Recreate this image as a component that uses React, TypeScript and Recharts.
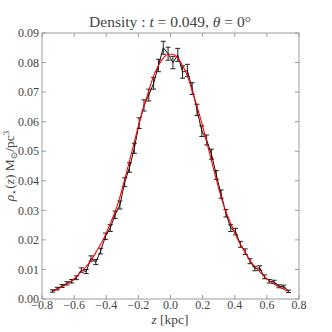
import { ComposedChart, ErrorBar, Line, XAxis, YAxis } from 'recharts';

const zValues = [
  -0.735, -0.705, -0.675, -0.645, -0.615, -0.585, -0.555, -0.525, -0.495, -0.465,
  -0.435, -0.405, -0.375, -0.345, -0.315, -0.285, -0.255, -0.225, -0.195, -0.165,
  -0.135, -0.105, -0.075, -0.045, -0.015, 0.015, 0.045, 0.075, 0.105, 0.135,
  0.165, 0.195, 0.225, 0.255, 0.285, 0.315, 0.345, 0.375, 0.405, 0.435,
  0.465, 0.495, 0.525, 0.555, 0.585, 0.615, 0.645, 0.675, 0.705, 0.735,
];

const densityValues = [
  0.0027, 0.0035, 0.0044, 0.0053, 0.006, 0.0072, 0.0098, 0.0093, 0.0137, 0.0125,
  0.0162, 0.0212, 0.024, 0.0285, 0.0318, 0.0395, 0.0445, 0.051, 0.0595, 0.0655,
  0.069, 0.073, 0.079, 0.085, 0.083, 0.08, 0.0826, 0.0768, 0.0773, 0.0712,
  0.064, 0.0568, 0.0538, 0.049, 0.042, 0.0355, 0.029, 0.024, 0.0228, 0.0185,
  0.016, 0.0128, 0.0103, 0.0105, 0.0075, 0.006, 0.0058, 0.0043, 0.0042, 0.0026,
];

const densityErrors = [
  0.0004, 0.00045, 0.0005, 0.00055, 0.0006, 0.00065, 0.00075, 0.0007, 0.0009, 0.00085,
  0.00095, 0.0011, 0.00115, 0.00125, 0.00135, 0.0015, 0.0016, 0.0017, 0.0018, 0.0019,
  0.002, 0.002, 0.0021, 0.0022, 0.0022, 0.0021, 0.0022, 0.0021, 0.0021, 0.002,
  0.0019, 0.0018, 0.0017, 0.0017, 0.0015, 0.0014, 0.00125, 0.00115, 0.0011, 0.001,
  0.00095, 0.00085, 0.00075, 0.00075, 0.00065, 0.0006, 0.00055, 0.0005, 0.0005, 0.0004,
];

const fitValues = [
  0.0026, 0.0033, 0.0041, 0.0051, 0.0062, 0.0076, 0.0093, 0.011, 0.013, 0.0157,
  0.0185, 0.0217, 0.0255, 0.0295, 0.0345, 0.0405, 0.0468, 0.0532, 0.0595, 0.0652,
  0.0705, 0.0755, 0.079, 0.0815, 0.0828, 0.0828, 0.0815, 0.079, 0.0755, 0.0705,
  0.0652, 0.0595, 0.0532, 0.0468, 0.0405, 0.0345, 0.0295, 0.0255, 0.0217, 0.0185,
  0.0157, 0.013, 0.011, 0.0093, 0.0076, 0.0062, 0.0051, 0.0041, 0.0033, 0.0026,
];

const xTicks = [-0.8, -0.6, -0.4, -0.2, 0, 0.2, 0.4, 0.6, 0.8];
const yTicks = [0, 0.01, 0.02, 0.03, 0.04, 0.05, 0.06, 0.07, 0.08, 0.09];

const data = zValues.map((z, i) => ({
  z,
  rho: densityValues[i],
  err: densityErrors[i],
  fit: fitValues[i],
}));

const FONT = '"Liberation Serif", "DejaVu Serif", serif';
const FRAME = '#9a9a9a';
const LABEL = '#444';

const fmtX = (v: number) => (v < 0 ? '\u2212' : '') + Math.abs(v).toFixed(1);
const fmtY = (v: number) => v.toFixed(2);
const blank = () => '';

export default function App() {
  const tick = { fill: LABEL, fontSize: 12, fontFamily: FONT };
  return (
    <div style={{ position: 'absolute', left: 0, top: 0, width: 332, height: 332, background: '#fff' }}>
      <ComposedChart
        width={332}
        height={332}
        data={data}
        margin={{ top: 28, right: 28, bottom: 3, left: 0 }}
      >
        <XAxis
          dataKey="z"
          type="number"
          domain={[-0.8, 0.8]}
          ticks={xTicks}
          tickFormatter={fmtX}
          tick={tick}
          tickSize={-4}
          tickMargin={5}
          height={30}
          stroke={FRAME}
          allowDataOverflow
        />
        <XAxis
          xAxisId="top"
          orientation="top"
          dataKey="z"
          type="number"
          domain={[-0.8, 0.8]}
          ticks={xTicks}
          tickFormatter={blank}
          tickSize={-4}
          height={5}
          stroke={FRAME}
          allowDataOverflow
        />
        <YAxis
          type="number"
          domain={[0, 0.09]}
          ticks={yTicks}
          tickFormatter={fmtY}
          tick={tick}
          tickSize={-4}
          tickMargin={7}
          width={42}
          stroke={FRAME}
          allowDataOverflow
        />
        <YAxis
          yAxisId="right"
          orientation="right"
          type="number"
          domain={[0, 0.09]}
          ticks={yTicks}
          tickFormatter={blank}
          tickSize={-4}
          width={5}
          stroke={FRAME}
          allowDataOverflow
        />
        <Line
          dataKey="rho"
          type="linear"
          stroke="#111"
          strokeWidth={1}
          dot={false}
          isAnimationActive={false}
        >
          <ErrorBar dataKey="err" direction="y" width={2.5} stroke="#222" strokeWidth={1} />
        </Line>
        <Line
          dataKey="fit"
          xAxisId="top"
          yAxisId="right"
          type="monotone"
          stroke="#ff0000"
          strokeWidth={1.1}
          dot={false}
          isAnimationActive={false}
        />
      </ComposedChart>
      <svg
        width={332}
        height={332}
        style={{ position: 'absolute', left: 0, top: 0, pointerEvents: 'none' }}
        fontFamily={FONT}
        fill={LABEL}
      >
        <text x={170} y={27} textAnchor="middle" fontSize={15.5}>
          Density : <tspan fontStyle="italic">t</tspan> = 0.049,{' '}
          <tspan fontStyle="italic">θ</tspan> = 0°
        </text>
        <text x={170} y={324} textAnchor="middle" fontSize={13.5}>
          <tspan fontStyle="italic">z</tspan> [kpc]
        </text>
        <text x={14} y={166} textAnchor="middle" fontSize={13.5} transform="rotate(-90 14 166)">
          <tspan fontStyle="italic">ρ</tspan>
          <tspan fontSize={9} dy={3}>⋆</tspan>
          <tspan dy={-3}>(</tspan>
          <tspan fontStyle="italic">z</tspan>
          <tspan>) M</tspan>
          <tspan fontSize={9} dy={3}>⊙</tspan>
          <tspan dy={-3}>/pc</tspan>
          <tspan fontSize={9} dy={-5}>3</tspan>
        </text>
      </svg>
    </div>
  );
}
